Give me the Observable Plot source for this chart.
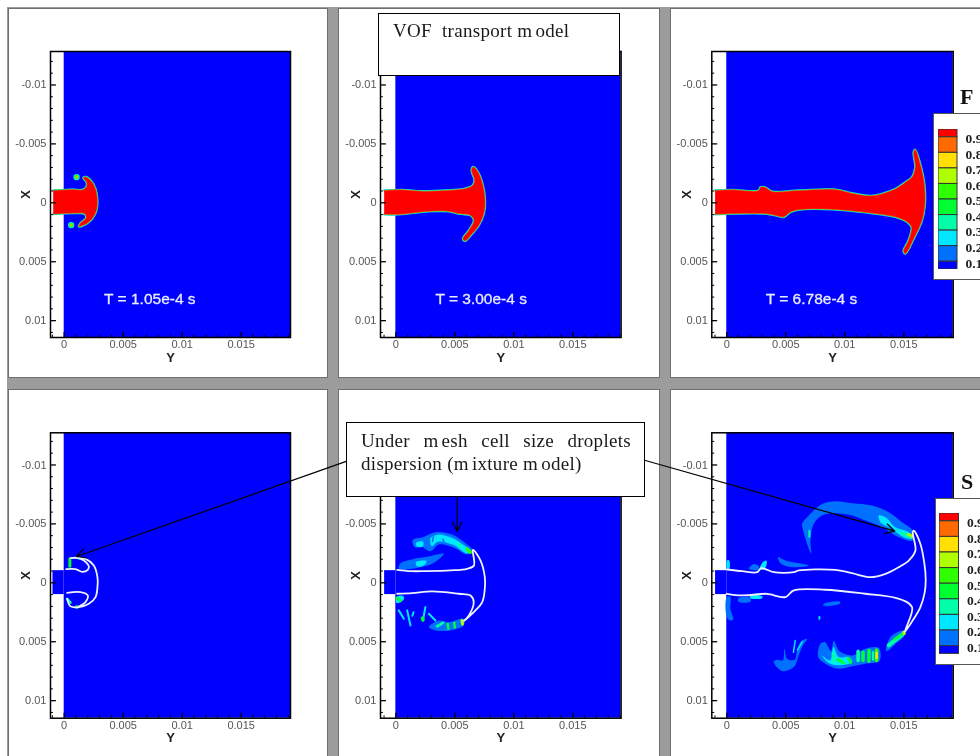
<!DOCTYPE html>
<html><head><meta charset="utf-8">
<script src="https://cdn.jsdelivr.net/npm/d3@7"></script>
<script src="https://cdn.jsdelivr.net/npm/@observablehq/plot@0.6"></script>
<style>
html,body{margin:0;padding:0;width:980px;height:756px;overflow:hidden;background:#fff}
#page{position:relative;width:980px;height:756px;overflow:hidden;filter:blur(0.45px)}
#band{position:absolute;left:7px;top:7px;width:973px;height:749px;background:#9c9c9c}
.pane{position:absolute;background:#fff;box-sizing:border-box;border:1px solid #6f6f6f}
.holder{position:absolute;z-index:1}
.legendbox{position:absolute;background:#fff;border:1px solid #555;box-sizing:border-box;z-index:2}
.legendplot{position:absolute;z-index:3}
.letter{position:absolute;z-index:2;font:bold 22px "Liberation Serif";color:#111}
.callout{position:absolute;z-index:4;background:#fff;border:1.5px solid #000;box-sizing:border-box;font-family:"Liberation Serif";font-size:19px;letter-spacing:0.3px;color:#1a1a1a}
.callout span.g{margin-right:3px}
#c1 div{position:absolute;left:14px;top:6.5px;white-space:nowrap}
#c2 .a{position:absolute;left:14px;top:7.5px;width:270px;text-align:justify;text-align-last:justify;white-space:nowrap}
#c2 .b{position:absolute;left:14px;top:30px;white-space:nowrap}
</style></head><body>
<div id="page"><div id="band"></div></div>
<script>
// axis ticks (metres)
const yTicks=[0,0.005,0.01,0.015];
const yTickLabels=["0","0.005","0.01","0.015"];
const xTicks=[-0.01,-0.005,0,0.005,0.01];
const xTickLabels=["-0.01","-0.005","0","0.005","0.01"];
const yMinor=[-0.001,0.001,0.002,0.003,0.004,0.006,0.007,0.008,0.009,0.011,0.012,0.013,0.014,0.016,0.017,0.018,0.019];
const xMinor=[-0.012,-0.011,-0.009,-0.008,-0.007,-0.006,-0.004,-0.003,-0.002,-0.001,0.001,0.002,0.003,0.004,0.006,0.007,0.008,0.009,0.011];

// legend
const legendLabels=["0.9","0.8","0.7","0.6","0.5","0.4","0.3","0.2","0.1"];
const legendLower=[0.9,0.8,0.7,0.6,0.5,0.4,0.3,0.2,0.1,0.05];
const legendUpper=[0.95,0.9,0.8,0.7,0.6,0.5,0.4,0.3,0.2,0.1];
const levelBreaks=[0.1,0.2,0.3,0.4,0.5,0.6,0.7,0.8,0.9];
const levelColors=["#0000ff","#0070ff","#00e8ff","#00ffa8","#00ff30","#30ff00","#b0ff00","#ffe000","#ff6a00","#ff0000"];

// liquid column outlines, [Y, X] in mm
const jetA=[[-0.93,-1.05],[0.82,-1.13],[1.53,-1.10],[1.89,-1.38],[1.89,-1.75],[1.61,-2.12],[1.84,-2.20],[2.29,-1.86],[2.66,-1.19],[2.82,-0.20],[2.74,0.65],[2.37,1.36],[1.89,1.78],[1.24,2.01],[1.38,1.72],[1.86,1.27],[1.72,0.93],[1.10,0.88],[-0.93,0.96]];
const jetB=[[-0.99,-1.05],[0.54,-1.10],[2.2,-0.99],[4.2,-1.05],[5.76,-1.19],[6.47,-1.44],[6.67,-1.89],[6.41,-2.74],[6.55,-3.05],[6.89,-2.74],[7.32,-1.75],[7.57,-0.2],[7.46,0.93],[7.03,1.92],[6.47,2.63],[5.85,3.25],[5.68,3.05],[6.18,2.34],[6.61,1.5],[6.33,1.07],[5.34,0.93],[4.49,0.73],[2.8,0.73],[0.25,0.99],[-0.99,0.99]];
const jetC=[[-0.99,-1.05],[0.45,-1.1],[2.7,-1.05],[2.85,-1.33],[3.28,-1.3],[3.84,-0.96],[6.1,-1.05],[9.2,-1.13],[10.6,-0.82],[12.2,-0.59],[13.16,-0.76],[14.3,-1.19],[15.14,-1.75],[15.7,-2.18],[15.97,-3.02],[15.83,-4.29],[15.97,-4.52],[16.4,-3.3],[16.75,-1.61],[16.8,0.08],[16.55,1.5],[15.85,3.05],[15.14,4.32],[14.97,4.1],[15.4,3.19],[15.65,2.06],[15.3,1.64],[14.3,1.21],[11.75,0.82],[8.93,0.56],[6.1,0.59],[5.4,0.79],[4.83,1.21],[4.12,1.07],[3.28,0.93],[0.45,0.93],[-0.99,0.99]];
const dropsAY=[1.05,0.59];
const dropsAX=[-2.18,1.89];

// inlet parts in the lower row
const inletY=[-0.95,0];
const inletX=[-1.03,1.0];

// interface lines in the lower row
const lineD1=[[0.17,-1.16],[0.96,-1.16],[1.53,-0.93],[2.0,-1.1],[2.09,-1.38],[1.67,-1.89],[1.16,-2.12],[0.54,-2.09],[1.16,-2.12],[1.81,-2.03],[2.51,-1.47],[2.82,-0.48],[2.82,0.37],[2.66,1.21],[2.09,1.78],[1.24,2.06],[0.54,2.0],[0.25,1.36]];
const lineD2=[[0.25,0.85],[1.38,0.79],[2.0,1.07],[1.8,1.64],[1.24,2.02]];
const lineE=[[0.11,-1.1],[1.24,-0.99],[2.5,-0.99],[4.63,-1.05],[6.05,-1.19],[6.62,-1.47],[6.53,-2.8],[7.18,-1.89],[7.54,-0.48],[7.54,0.51],[7.32,1.64],[6.6,2.49],[5.76,3.25],[6.19,2.77],[6.6,1.64],[6.33,1.07],[5.34,0.93],[3.08,0.73],[1.38,0.88],[0.11,0.93]];
const lineF=[[0,-1.13],[1.3,-0.99],[2.57,-0.9],[2.91,-1.24],[3.28,-1.16],[3.98,-0.9],[5.68,-0.9],[6.1,-1.05],[9.2,-1.1],[10.6,-0.82],[12.18,-0.48],[13.45,-0.76],[14.58,-1.33],[15.42,-1.89],[15.99,-2.74],[15.76,-4.29],[15.85,-4.43],[16.41,-3.3],[16.75,-1.61],[16.86,-0.34],[16.78,0.79],[16.41,2.06],[15.85,3.05],[15.08,4.18],[15.65,2.63],[15.7,2.06],[15.28,1.64],[14.29,1.27],[11.75,0.93],[8.36,0.59],[5.68,0.65],[4.97,1.21],[3.7,0.99],[3.28,0.93],[1.3,1.07],[0,0.93]];

// droplet clouds: [level, outline]
const cloudsE=[
 [0.15,[[1.44,-3.64],[2.29,-3.87],[3.36,-4.29],[4.77,-4.1],[5.9,-3.36],[6.53,-2.74],[6.05,-2.4],[4.92,-2.97],[3.64,-3.25],[2.94,-2.68],[2.23,-3.02],[1.61,-3.02]]],
 [0.15,[[0.25,-1.19],[0.4,-1.67],[1.53,-2.03],[2.5,-2.18],[4.07,-2.46],[3.08,-1.61],[2.09,-1.33]]],
 [0.15,[[2.8,3.76],[3.64,3.2],[4.49,3.33],[5.76,3.05],[5.76,3.6],[4.63,4.04],[3.36,4.04]]],
 [0.25,[[1.7,-3.4],[2.3,-3.5],[2.3,-3.1],[1.8,-3.05]]],
 [0.25,[[2.94,-3.8],[3.6,-4.1],[4.8,-3.8],[5.9,-3.1],[6.4,-2.7],[6.0,-2.5],[4.9,-3.2],[3.6,-3.5],[3.05,-3.1]]],
 [0.25,[[1.7,-1.75],[2.6,-1.85],[2.4,-1.5],[1.8,-1.4]]],
 [0.25,[[0.05,1.2],[0.6,1.1],[0.7,1.35],[0.3,1.7],[0.05,1.7]]]
];
const cloudsF=[
 [0.15,[[6.38,-5.0],[6.95,-5.71],[8.08,-6.69],[9.21,-6.92],[10.62,-6.75],[12.32,-6.55],[13.73,-5.99],[14.86,-5.14],[15.76,-4.43],[15.76,-3.59],[14.58,-3.87],[13.16,-4.72],[11.75,-5.28],[10.62,-5.71],[9.21,-5.9],[8.08,-5.71],[7.37,-5.0],[7.09,-3.59],[7.15,-2.51],[6.81,-3.3],[6.44,-4.58]]],
 [0.25,[[12.88,-5.71],[13.45,-5.57],[14.29,-4.72],[15.42,-4.29],[15.76,-3.72],[15.0,-3.86],[14.01,-4.57],[13.03,-5.14]]],
 [0.35,[[14.7,-4.3],[15.37,-4.2],[15.7,-3.8],[15.1,-3.95]]],
 [0.15,[[4.35,-2.18],[4.97,-1.89],[6.95,-1.47],[5.54,-1.33],[4.55,-1.67]]],
 [0.15,[[1.86,-1.19],[2.3,-1.6],[2.7,-1.4],[2.7,-1.1]]],
 [0.25,[[2.8,-1.19],[3.05,-1.75],[3.36,-1.89],[3.36,-1.47],[3.08,-1.1]]],
 [0.25,[[0.02,-1.9],[0.2,-1.9],[0.22,-1.2],[0.02,-1.2]]],
 [0.15,[[1.0,1.3],[2.0,1.3],[2.0,1.6],[1.0,1.6]]],
 [0.25,[[2.0,1.07],[3.0,1.15],[3.0,1.3],[2.0,1.3]]],
 [0.15,[[0,1.2],[0.3,1.2],[0.3,2.2],[0.55,3.1],[0.3,3.2],[0,2.9]]],
 [0.15,[[8.2,1.8],[9.6,1.6],[9.6,1.75],[8.2,1.95]]],
 [0.15,[[3.98,6.72],[4.69,7.49],[5.68,7.15],[6.1,6.16],[6.38,5.45],[6.81,4.75],[6.33,4.94],[5.96,5.73],[5.76,6.53],[5.11,6.44],[4.89,5.59],[4.75,6.58],[4.27,6.53]]],
 [0.15,[[7.74,6.3],[7.94,5.17],[8.31,5.03],[8.84,5.79],[9.07,4.94],[9.55,5.79],[10.62,6.16],[11.75,5.59],[12.88,5.54],[12.94,6.64],[11.75,6.86],[10.62,7.09],[9.49,7.29],[8.36,6.86]]],
 [0.25,[[8.08,6.16],[8.76,6.58],[9.04,5.45],[9.49,6.3],[10.34,6.3],[10.62,6.72],[9.49,7.0],[8.64,6.8]]],
 [0.15,[[13.5,5.79],[13.6,5.17],[14.0,4.46],[15.08,4.04],[15.0,4.55],[14.3,5.17],[13.78,5.68]]]
];
// short streaks: [Y1, X1, Y2, X2, level, width in px]
const streaksD=[[0.48,-2.05,0.48,-1.4,0.45,3],[1.0,-2.1,1.6,-1.95,0.25,1.5],[0.25,1.36,0.54,1.68,0.35,2.5],[1.05,2.06,1.1,2.06,0.45,3.5]];
const streaksE=[[0.25,2.34,0.68,3.05,0.25,2],[0.96,2.34,1.24,3.62,0.25,2],[1.5,2.5,1.4,2.8,0.25,2],[2.5,2.06,2.3,3.2,0.25,2],[2.25,3.0,2.3,3.15,0.45,3.5],[2.8,2.63,3.36,3.2,0.25,2],[3.5,3.7,4.0,3.4,0.35,2.5],[4.4,3.5,4.45,3.9,0.45,2.5],[4.95,3.4,5.0,3.8,0.45,2.5],[5.6,3.2,5.65,3.5,0.65,3],[6.05,-2.85,6.3,-2.6,0.55,3.5],[5.3,-3.3,5.5,-3.05,0.35,2.5],[0.1,1.3,0.4,1.5,0.45,3],[4.0,-3.7,4.1,-3.35,0.15,1.5],[3.2,-4.0,3.1,-3.5,0.15,1.5]];
const streaksF=[[15.4,-4.1,15.75,-3.95,0.65,3],[7.0,-4.4,7.0,-3.9,0.35,2],[9.0,6.0,9.1,6.7,0.35,3],[9.4,6.5,9.9,6.8,0.45,3],[10.3,6.4,10.5,6.75,0.45,3],[11.13,5.8,11.13,6.6,0.35,3.5],[11.55,5.9,11.55,6.6,0.45,3.5],[12.05,5.75,12.05,6.65,0.45,3.5],[12.4,5.9,12.4,6.5,0.35,2.5],[12.7,5.7,12.7,6.6,0.55,3.5],[12.7,5.95,12.7,6.35,0.75,2.5],[13.73,5.3,14.9,4.38,0.35,4],[14.2,4.8,14.9,4.35,0.45,2.5],[15.0,4.2,15.05,4.3,0.65,3],[5.8,4.9,5.65,5.9,0.25,1.5],[6.4,5.0,6.0,5.7,0.25,1.5],[7.85,2.9,7.85,3.05,0.25,2]];

// time stamps and arrows (mm)
const timeLabels=["T = 1.05e-4 s","T = 3.00e-4 s","T = 6.78e-4 s"];
const timeY=[7.26,7.23,7.18];
const timeX=[8.2,8.2,8.2];
const arrowD=[[23.9,-10.3,1.05,-2.23]];
const arrowE=[[5.2,-7.26,5.2,-4.38]];
const arrowF=[[-6.9,-10.38,14.24,-4.38]];

// panel geometry
const cols=[{left:8,right:328,pl:50,pr:290,yd:[-1.16,19.18]},{left:338,right:660,pl:380,pr:620.6,yd:[-1.30,19.09]},{left:670,right:980,pl:711.3,pr:952.7,yd:[-1.27,19.19]}];
const rows=[{top:8,bottom:378,pt:51,pb:337,xd:[-12.84,11.43]},{top:389,bottom:756,pt:432.3,pb:717.7,xd:[-12.73,11.49]}];

const page=document.getElementById("page");
const m=v=>v/1000;
const colorScale={type:"threshold",domain:levelBreaks,range:levelColors};
const outline=s=>s.map(([y,x])=>({y:m(y),x:m(x)}));
const clouds=c=>c.flatMap(([level,s],id)=>s.map(([y,x])=>({id,level,y:m(y),x:m(x)})));
const strokes=s=>s.map(([y1,x1,y2,x2,level,w])=>({y1:m(y1),x1:m(x1),y2:m(y2),x2:m(x2),level,w}));
const arrows=(a)=>{const d=a.map(([y1,x1,y2,x2])=>({y1:m(y1),x1:m(x1),y2:m(y2),x2:m(x2)}));
  return Plot.arrow(d,{x1:"y1",y1:"x1",x2:"y2",y2:"x2",stroke:"#000",strokeWidth:1.2,headLength:13,headAngle:55});};
const curve="catmull-rom";
const lineMark=(s,o)=>Plot.line(outline(s),{x:"y",y:"x",curve,...o});
const cloudMark=c=>Plot.line(clouds(c),{x:"y",y:"x",z:"id",fill:"level",stroke:"none",curve:"catmull-rom-closed"});
const streakMark=s=>Plot.link(strokes(s),{x1:"y1",y1:"x1",x2:"y2",y2:"x2",stroke:"level",strokeWidth:"w",strokeLinecap:"round"});

function panel(c,r,marks){
  const C=cols[c],R=rows[r];
  const pane=document.createElement("div");pane.className="pane";
  pane.style.cssText=`left:${C.left}px;top:${R.top}px;width:${C.right-C.left+(c==2?4:0)}px;height:${R.bottom-R.top+(r==1?4:0)}px`;
  page.appendChild(pane);
  const xMin=m(C.yd[0]),xMax=m(C.yd[1]),yMin=m(R.xd[0]),yMax=m(R.xd[1]);
  // the callout box hides the -0.01 label of the lower middle panel
  const shown=(c==1&&r==1)?xTicks.slice(1):xTicks;
  const svg=Plot.plot({
    width:C.right-C.left,height:R.bottom-R.top,
    marginLeft:C.pl-C.left,marginRight:C.right-C.pr,marginTop:R.pt-R.top,marginBottom:R.bottom-R.pb,
    x:{domain:[xMin,xMax]},y:{domain:[yMin,yMax],reverse:true},color:colorScale,
    style:{background:"transparent",overflow:"visible",fontFamily:"Liberation Sans",maxWidth:"none"},
    marks:[
      Plot.rect([0],{x1:0,x2:xMax,y1:yMin,y2:yMax,fill:"#0000ff"}),
      ...marks,
      Plot.ruleY(xTicks,{x1:xMin,x2:xMin+0.0005,stroke:"#000",strokeWidth:1.3}),
      Plot.ruleY(xMinor,{x1:xMin,x2:xMin+0.00025,stroke:"#000",strokeWidth:1}),
      Plot.ruleX(yTicks,{y1:yMax,y2:yMax-0.00042,stroke:"#000",strokeWidth:1.3}),
      Plot.ruleX(yMinor,{y1:yMax,y2:yMax-0.0002,stroke:"#000",strokeWidth:1}),
      Plot.frame({stroke:"#000",strokeWidth:1.5}),
      Plot.axisY(shown,{anchor:"left",tickSize:0,tickPadding:4,label:null,fontSize:11,fill:"#555",tickFormat:d=>xTickLabels[xTicks.indexOf(d)]}),
      Plot.axisX(yTicks,{anchor:"bottom",tickSize:0,tickPadding:3,label:null,fontSize:11,fill:"#555",tickFormat:d=>yTickLabels[yTicks.indexOf(d)]}),
      Plot.text(["X"],{text:d=>d,frameAnchor:"left",textAnchor:"middle",lineAnchor:"middle",dx:-25,rotate:-90,fontWeight:"bold",fontSize:13,fill:"#222"}),
      Plot.text(["Y"],{text:d=>d,frameAnchor:"bottom",lineAnchor:"middle",dy:20,fontWeight:"bold",fontSize:13,fill:"#222"}),
      ...(r==0?[Plot.text([timeLabels[c]],{text:d=>d,x:()=>m(timeY[c]),y:()=>m(timeX[c]),fill:"#e8ecff",fontSize:15.5,stroke:"#e8ecff",strokeWidth:0.3})]:[]),
      ...(r==1?[c==0?arrows(arrowD):c==1?arrows(arrowE):arrows(arrowF)]:[])
    ]
  });
  const h=document.createElement("div");h.className="holder";h.style.cssText=`left:${C.left}px;top:${R.top}px`;
  h.appendChild(svg);page.appendChild(h);
}
const jetMarks=s=>[
  lineMark(s,{stroke:"#00d8ff",strokeWidth:2.2}),
  lineMark(s,{stroke:"#00ff70",strokeWidth:1.3}),
  lineMark(s,{fill:"#ff0000",stroke:"#ff6a00",strokeWidth:0.5})
];
const inlet=()=>Plot.rect([0],{x1:m(inletY[0]),x2:m(inletY[1]),y1:m(inletX[0]),y2:m(inletX[1]),fill:"#0000ff"});
const white=s=>lineMark(s,{stroke:"#eef2ff",strokeWidth:1.8});
const dropDots=[
  Plot.dot(dropsAY.map((y,i)=>({y:m(y),x:m(dropsAX[i])})),{x:"y",y:"x",r:3.2,fill:"#00e8ff"}),
  Plot.dot(dropsAY.map((y,i)=>({y:m(y),x:m(dropsAX[i])})),{x:"y",y:"x",r:2.3,fill:"#30ff00"}),
  Plot.dot(dropsAY.map((y,i)=>({y:m(y),x:m(dropsAX[i])})),{x:"y",y:"x",r:1.1,fill:"#ffb000"})
];
panel(0,0,[...jetMarks(jetA),...dropDots]);
panel(1,0,jetMarks(jetB));
panel(2,0,jetMarks(jetC));
panel(0,1,[inlet(),streakMark(streaksD),white(lineD1),white(lineD2)]);
panel(1,1,[inlet(),cloudMark(cloudsE),streakMark(streaksE),white(lineE)]);
panel(2,1,[inlet(),cloudMark(cloudsF),streakMark(streaksF),white(lineF)]);

function legend(letter,lx,ly,box,sw){
  const L=document.createElement("div");L.className="letter";L.textContent=letter;L.style.cssText=`left:${lx}px;top:${ly}px`;page.appendChild(L);
  const b=document.createElement("div");b.className="legendbox";b.style.cssText=`left:${box.l}px;top:${box.t}px;width:70px;height:${box.b-box.t}px`;page.appendChild(b);
  const swW=sw.r-sw.l,full=980-sw.l;
  const bands=legendLower.map((lo,i)=>({lo,hi:legendUpper[i],mid:(lo+legendUpper[i])/2}));
  const svg=Plot.plot({width:full,height:sw.b-sw.t,margin:0,marginRight:full-swW,
    x:{domain:[0,1],axis:null},y:{domain:[0.05,0.95],axis:null},color:colorScale,
    style:{background:"transparent",overflow:"hidden",fontFamily:"Liberation Serif"},
    marks:[
      Plot.rect(bands,{x1:0,x2:1,y1:"lo",y2:"hi",fill:"mid",stroke:"#333",strokeWidth:1}),
      Plot.text(legendLabels,{text:d=>d,x:1,y:d=>+d,dx:8,dy:1.5,textAnchor:"start",fontWeight:"bold",fontSize:13.5,fill:"#222"})
    ]});
  const h=document.createElement("div");h.className="legendplot";h.style.cssText=`left:${sw.l}px;top:${sw.t}px`;h.appendChild(svg);page.appendChild(h);
}
legend("F",960,84,{l:933,t:113,b:280},{l:937.5,r:956.5,t:128.7,b:268.7});
legend("S",961,469,{l:934.5,t:498,b:665},{l:939,r:958.5,t:513.3,b:653.7});

const c1=document.createElement("div");c1.className="callout";c1.id="c1";
c1.style.cssText="left:378px;top:12.5px;width:242px;height:63px";
c1.innerHTML='<div>VOF&nbsp; transport <span class="g">m</span>odel</div>';page.appendChild(c1);
const c2=document.createElement("div");c2.className="callout";c2.id="c2";
c2.style.cssText="left:346px;top:421.5px;width:299px;height:75.5px";
c2.innerHTML='<div class="a">Under <span class="g">m</span>esh cell size droplets</div><div class="b">dispersion (<span class="g">m</span>ixture <span class="g">m</span>odel)</div>';page.appendChild(c2);
</script></body></html>
